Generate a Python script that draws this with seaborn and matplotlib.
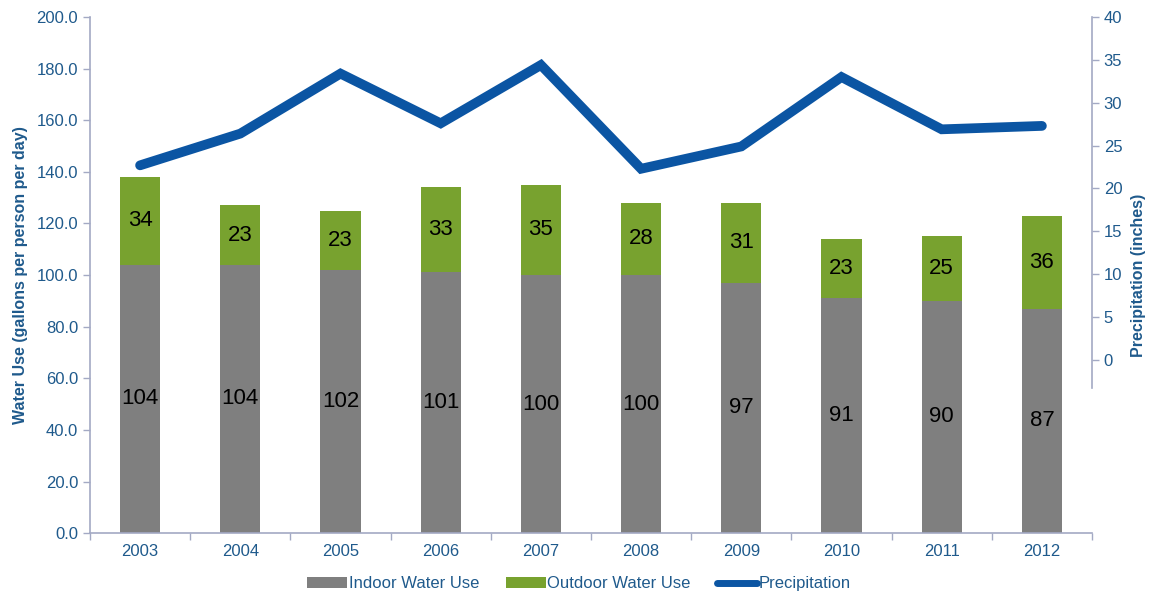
import numpy as np
import pandas as pd
import matplotlib.pyplot as plt
import seaborn as sns
from matplotlib.patches import Patch
from matplotlib.lines import Line2D

years = ['2003', '2004', '2005', '2006', '2007', '2008', '2009', '2010', '2011', '2012']
indoor = [104, 104, 102, 101, 100, 100, 97, 91, 90, 87]
outdoor = [34, 23, 23, 33, 35, 28, 31, 23, 25, 36]
precip = [22.7, 26.4, 33.4, 27.6, 34.4, 22.3, 24.9, 33.0, 26.9, 27.3]

df = pd.DataFrame({'Year': years, 'Indoor': indoor, 'Outdoor': outdoor, 'Precip': precip})
df['Total'] = df['Indoor'] + df['Outdoor']

sns.set_theme(style="white")
plt.rcParams['font.family'] = ['Liberation Sans', 'DejaVu Sans']

gray = '#7f7f7f'
green = '#78a22f'
blue = '#0b55a3'
txt_blue = '#1f5a8c'
spine_col = '#a3a9c4'

fig = plt.figure(figsize=(11.58, 5.97), dpi=100)
ax = fig.add_axes([0.0777, 0.107, 0.8653, 0.8645])

sns.barplot(data=df, x='Year', y='Total', color=green, width=0.4, saturation=1, linewidth=0, ax=ax)
sns.barplot(data=df, x='Year', y='Indoor', color=gray, width=0.4, saturation=1, linewidth=0, ax=ax)

for i, row in df.iterrows():
    ax.text(i, row['Indoor'] / 2, f"{row['Indoor']:.0f}", ha='center', va='center', fontsize=16, color='black')
    ax.text(i, row['Indoor'] + row['Outdoor'] / 2, f"{row['Outdoor']:.0f}", ha='center', va='center', fontsize=16, color='black')

ax.set_xlim(-0.5, len(years) - 0.5)
ax.set_ylim(0, 200)
ax.set_yticks(np.arange(0, 201, 20))
ax.set_yticklabels([f'{v:.1f}' for v in np.arange(0, 201, 20)])
ax.set_xticks(np.arange(-0.5, len(years), 1), minor=False)
ax.set_xticklabels([])
ax.set_xticks(np.arange(len(years)), minor=True)
ax.set_xticklabels(years, minor=True)
ax.tick_params(axis='x', which='major', length=5, width=1, color=spine_col, direction='out', bottom=True)
ax.tick_params(axis='x', which='minor', length=0, labelsize=12, labelcolor=txt_blue, pad=8)
ax.tick_params(axis='y', length=5, width=1, color=spine_col, direction='out', left=True, labelsize=12, labelcolor=txt_blue)
ax.set_xlabel('')
ax.set_ylabel('Water Use (gallons per person per day)', fontsize=11.5, fontweight='bold', color=txt_blue, labelpad=6)
for s in ['top', 'right']:
    ax.spines[s].set_visible(False)
for s in ['left', 'bottom']:
    ax.spines[s].set_color(spine_col)
    ax.spines[s].set_linewidth(1.2)

ax2 = ax.twinx()
sns.lineplot(x=np.arange(len(years)), y=df['Precip'], color=blue, linewidth=7, ax=ax2,
             solid_capstyle='round', solid_joinstyle='miter')
ax2.set_ylim(-20.2, 40)
ax2.set_yticks(np.arange(0, 41, 5))
ax2.spines['right'].set_bounds(-3.3, 40)
ax2.spines['right'].set_color(spine_col)
ax2.spines['right'].set_linewidth(1.2)
for s in ['top', 'left', 'bottom']:
    ax2.spines[s].set_visible(False)
ax2.tick_params(axis='y', length=5, width=1, color=spine_col, direction='out', right=True, labelsize=12, labelcolor=txt_blue)
ax2.set_ylabel('Precipitation (inches)', fontsize=11.5, fontweight='bold', color=txt_blue, labelpad=6)
ax2.set_xlim(-0.5, len(years) - 0.5)

handles = [Patch(facecolor=gray, edgecolor='none', label='Indoor Water Use'),
           Patch(facecolor=green, edgecolor='none', label='Outdoor Water Use'),
           Line2D([0], [0], color=blue, linewidth=5, label='Precipitation')]
leg = fig.legend(handles=handles, loc='center', bbox_to_anchor=(0.5, 0.022), ncol=3, frameon=False,
                 fontsize=12, handlelength=2.4, handleheight=0.7, handletextpad=0.1, columnspacing=1.6)
for t in leg.get_texts():
    t.set_color(txt_blue)

plt.savefig('out.png', dpi=100)
plt.close()
